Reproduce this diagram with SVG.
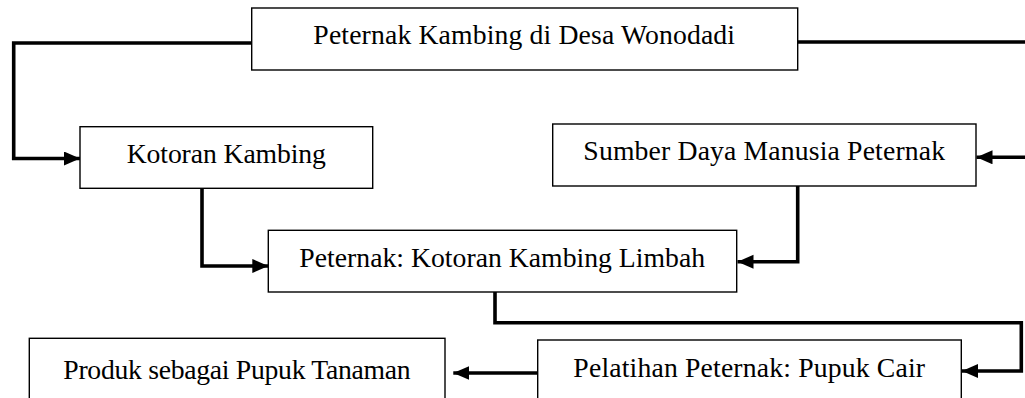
<svg xmlns="http://www.w3.org/2000/svg" width="1025" height="398" viewBox="0 0 1025 398">
<style>
.box{fill:#fff;stroke:#000;stroke-width:1.4}
.lbl{font-family:"Liberation Serif","Times New Roman",serif;font-size:27.7px;fill:#000;text-anchor:middle}
.con{fill:none;stroke:#000;stroke-width:3.6;stroke-linejoin:miter;stroke-linecap:butt}
</style>
<defs>
<marker id="arr" markerUnits="userSpaceOnUse" markerWidth="18" markerHeight="16" refX="16" refY="7" orient="auto">
<path d="M0,0 L16,7 L0,14 Z" fill="#000"/>
</marker>
</defs>
<g id="connectors">
<path class="con" d="M252,43 H13.7 V158.5 H80" marker-end="url(#arr)"/>
<path class="con" d="M798,42 H1032 V157.3 H976.5" marker-end="url(#arr)"/>
<path class="con" d="M797.7,186 V261.7 H737.5" marker-end="url(#arr)"/>
<path class="con" d="M202,188.3 V266 H268.3" marker-end="url(#arr)"/>
<path class="con" d="M495,292 V322.7 H1021.3 V371 H962" marker-end="url(#arr)"/>
<path class="con" d="M537.7,373 H453.3" marker-end="url(#arr)"/>
</g>
<g id="node-peternak">
<rect class="box" x="251.7" y="8" width="546" height="62"/>
<text class="lbl" x="524.2" y="44" textLength="421.7">Peternak Kambing di Desa Wonodadi</text>
</g>
<g id="node-kotoran">
<rect class="box" x="80" y="126.7" width="292.7" height="61.6"/>
<text class="lbl" x="226.3" y="163.3" textLength="199.3">Kotoran Kambing</text>
</g>
<g id="node-sdm">
<rect class="box" x="552.7" y="124" width="423.3" height="62"/>
<text class="lbl" x="764.2" y="160" textLength="361.7">Sumber Daya Manusia Peternak</text>
</g>
<g id="node-limbah">
<rect class="box" x="268.3" y="230.3" width="468.4" height="61.7"/>
<text class="lbl" x="502.2" y="267" textLength="405.7">Peternak: Kotoran Kambing Limbah</text>
</g>
<g id="node-produk">
<rect class="box" x="29.3" y="338.3" width="415.7" height="80"/>
<text class="lbl" x="237" y="378.5" textLength="347.4">Produk sebagai Pupuk Tanaman</text>
</g>
<g id="node-pelatihan">
<rect class="box" x="537.7" y="340" width="423.6" height="80"/>
<text class="lbl" x="749.2" y="377" textLength="351.7">Pelatihan Peternak: Pupuk Cair</text>
</g>
</svg>
